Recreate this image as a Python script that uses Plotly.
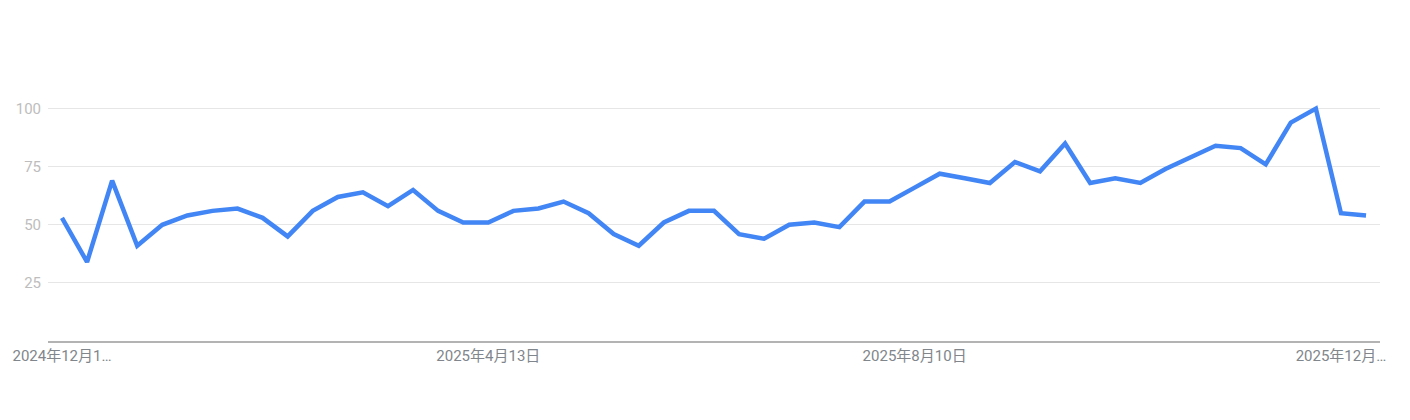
import pandas as pd
import plotly.graph_objects as go

# weekly interest values, 2024-12-15 .. 2025-12-14
start = "2024-12-15"
values = [53, 34, 69, 41, 50, 54, 56, 57, 53, 45,
          56, 62, 64, 58, 65, 56, 51, 51, 56, 57,
          60, 55, 46, 41, 51, 56, 56, 46, 44, 50,
          51, 49, 60, 60, 66, 72, 70, 68, 77, 73,
          85, 68, 70, 68, 74, 79, 84, 83, 76, 94,
          100, 55, 54]
weeks = pd.date_range(start, periods=len(values), freq="7D")

tick_dates = ["2024-12-15", "2025-04-13", "2025-08-10", "2025-12-07"]
tick_labels = ["2024年12月1…", "2025年4月13日", "2025年8月10日", "2025年12月…"]
y_ticks = [25, 50, 75, 100]

fig = go.Figure()
fig.add_trace(go.Scatter(x=weeks, y=values, mode="lines",
                         line=dict(color="#4285f4", width=4.5),
                         hoverinfo="x+y"))

# page body has an 8px margin, so margins are offset by that
pad = pd.Timedelta(days=3.9)
fig.update_layout(
    width=1410, height=420,
    margin=dict(l=40, r=38, t=89, b=87),
    plot_bgcolor="white", paper_bgcolor="white",
    showlegend=False,
    font=dict(family="Roboto, Noto Sans CJK SC, sans-serif", size=15),
    xaxis=dict(range=[weeks[0] - pad, weeks[-1] + pad], automargin=False,
               tickvals=pd.to_datetime(tick_dates), ticktext=tick_labels,
               showgrid=False, showline=True, linecolor="#b3b3b3", linewidth=2,
               ticks="", ticklabelstandoff=0,
               tickfont=dict(color="#80868b", size=15)),
    yaxis=dict(range=[0, 105], tickvals=y_ticks, showgrid=True, automargin=False,
               gridcolor="#e6e6e6", gridwidth=1, zeroline=False,
               showline=False, ticks="", ticklabelstandoff=6,
               tickfont=dict(color="#bdbdbd", size=15)),
)

fig.write_html("out.html")
